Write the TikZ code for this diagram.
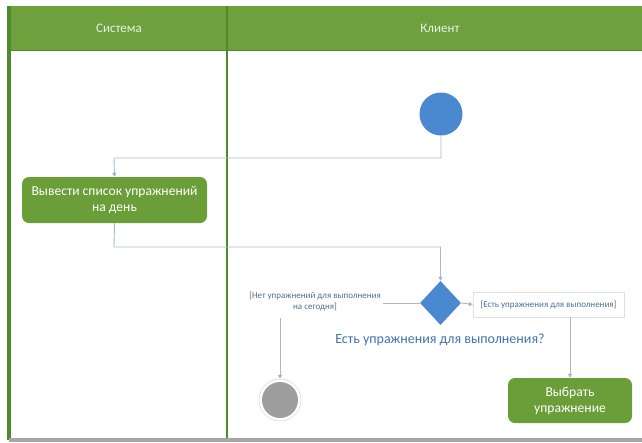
\documentclass[tikz,border=0pt]{standalone}
\usepackage{fontspec}
\setmainfont{Carlito}
\usetikzlibrary{shapes.geometric,arrows.meta}
\definecolor{lanegreen}{HTML}{6FA03E}
\definecolor{darkgreen}{HTML}{4C8A2C}
\definecolor{actgreen}{HTML}{6A9E38}
\definecolor{flowblue}{HTML}{4A89CF}
\definecolor{wire}{HTML}{A7B9CE}
\definecolor{labelblue}{HTML}{3F74B0}
\definecolor{guardtxt}{HTML}{4F6F95}
\tikzset{
  action/.style={draw=none, fill=actgreen, rounded corners=7pt, text=white,
    font=\fontsize{13.6}{16}\selectfont, align=center, inner sep=0pt},
  wireline/.style={draw=wire, line width=0.9pt},
  flow/.style={wireline, -{Triangle[length=4pt,width=4pt,fill=guardtxt]}},
  guard/.style={font=\fontsize{9}{11}\selectfont, text=guardtxt, align=center, inner sep=1pt},
  lanehead/.style={text=white!85!lanegreen, font=\fontsize{13}{15}\selectfont},
}
\begin{document}
\begin{tikzpicture}[x=1pt,y=-1pt]
  \useasboundingbox (0,0) rectangle (642,442);
  \fill[white] (0,0) rectangle (642,442);
  % swimlane header
  \fill[lanegreen] (7,6) rectangle (642,50);
  \draw[darkgreen, line width=1pt] (7,50) -- (642,50);
  % lane borders
  \fill[darkgreen] (7,6) rectangle (11,440);
  \draw[darkgreen, line width=1.3pt] (227,6) -- (227,440);
  \fill[black!35] (9,438) rectangle (642,442);
  \node[lanehead] (hsys) at (119,28) {Система};
  \node[lanehead] (hcli) at (440,28) {Клиент};

  % nodes
  \node[circle, fill=flowblue, minimum size=43pt, inner sep=0pt] (start) at (441,114) {};
  \node[action, minimum width=185pt, minimum height=46pt] (show) at (114.5,200) {Вывести список упражнений\\на день};
  \node[diamond, fill=flowblue, minimum width=41pt, minimum height=44pt, inner sep=0pt] (dec) at (440.5,303) {};
  \node[font=\fontsize{14}{16}\selectfont, text=labelblue] (q) at (440,340) {Есть упражнения для выполнения?};
  \node[guard] (gno) at (315,301) {[Нет упражнений для выполнения\\на сегодня]};
  \node[guard, draw=black!12, minimum width=151pt, minimum height=25pt, inner sep=2pt] (gyes) at (548.5,304.5) {[Есть упражнения для выполнения]};
  \node[circle, draw=black!20, fill=white, minimum size=42pt, inner sep=0pt] (end) at (280,400) {};
  \node[circle, fill=black!38, minimum size=36pt, inner sep=0pt] (endin) at (end.center) {};
  \node[action, minimum width=124pt, minimum height=45pt] (pick) at (570,400.5) {Выбрать\\упражнение};

  % connectors
  \coordinate (c1) at (441,158);
  \coordinate (c2) at (114,158);
  \draw[flow] (start.south) -- (c1) -- (c2) -- (show.north);
  \coordinate (c3) at (114,247);
  \coordinate (c4) at (440.5,247);
  \draw[flow] (show.south) -- (c3) -- (c4) -- (dec.north);
  \coordinate (c5) at (383,303);
  \draw[wireline] (dec.west) -- (c5);
  \coordinate (c6) at (280,318);
  \draw[flow] (c6) -- (end.north);
  \draw[flow] (dec.east) -- (gyes.west);
  \coordinate (c7) at (570,317);
  \draw[flow] (c7) -- (pick.north);
\end{tikzpicture}
\end{document}
